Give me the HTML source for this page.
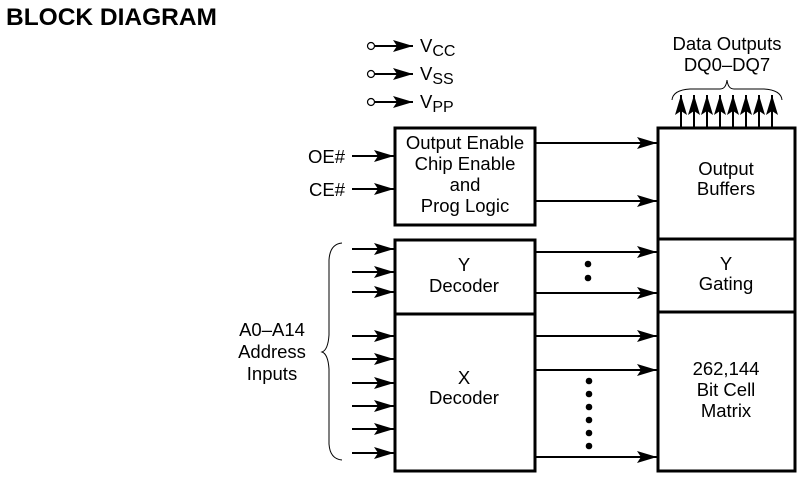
<!DOCTYPE html>
<html><head><style>
body{margin:0;background:#fff;width:802px;height:479px;overflow:hidden}
svg{display:block}
text{font-family:"Liberation Sans",Arial,sans-serif;font-size:18.5px;fill:#000}
</style></head><body>
<svg width="802" height="479" viewBox="0 0 802 479" xmlns="http://www.w3.org/2000/svg">
<defs>
<marker id="b" markerWidth="20" markerHeight="12" refX="20" refY="6" orient="auto" markerUnits="userSpaceOnUse">
<path d="M0,0 L20,6 L0,12 L4,6 Z" fill="#000"/></marker>
</defs>
<text x="6" y="25" style="font-size:24.5px;font-weight:bold">BLOCK DIAGRAM</text>

<g stroke="#000" stroke-width="2">
<circle cx="371" cy="46" r="3.5" fill="#fff" stroke-width="1.2"/>
<circle cx="371" cy="74" r="3.5" fill="#fff" stroke-width="1.2"/>
<circle cx="371" cy="102" r="3.5" fill="#fff" stroke-width="1.2"/>
<line x1="375" y1="46" x2="413" y2="46" marker-end="url(#b)"/>
<line x1="375" y1="74" x2="413" y2="74" marker-end="url(#b)"/>
<line x1="375" y1="102" x2="413" y2="102" marker-end="url(#b)"/>
</g>
<text x="420" y="52">V<tspan dy="4" font-size="16">CC</tspan></text>
<text x="420" y="80">V<tspan dy="4" font-size="16">SS</tspan></text>
<text x="420" y="108">V<tspan dy="4" font-size="16">PP</tspan></text>

<text x="727" y="50" text-anchor="middle">Data Outputs</text>
<text x="727" y="71" text-anchor="middle">DQ0–DQ7</text>
<path d="M672,100 Q673,90 690,89 L720,89 Q726,89 727,80 Q728,89 734,89 L764,89 Q781,90 782,100" fill="none" stroke="#000" stroke-width="1"/>
<g stroke="#000" stroke-width="2">
<line x1="681" y1="128" x2="681" y2="95" marker-end="url(#b)"/>
<line x1="694" y1="128" x2="694" y2="95" marker-end="url(#b)"/>
<line x1="707" y1="128" x2="707" y2="95" marker-end="url(#b)"/>
<line x1="720" y1="128" x2="720" y2="95" marker-end="url(#b)"/>
<line x1="733" y1="128" x2="733" y2="95" marker-end="url(#b)"/>
<line x1="746" y1="128" x2="746" y2="95" marker-end="url(#b)"/>
<line x1="759" y1="128" x2="759" y2="95" marker-end="url(#b)"/>
<line x1="772" y1="128" x2="772" y2="95" marker-end="url(#b)"/>
</g>

<g fill="none" stroke="#000" stroke-width="3">
<rect x="395" y="128" width="140" height="97"/>
<rect x="395" y="240" width="140" height="231"/>
<line x1="395" y1="314" x2="535" y2="314"/>
<rect x="658" y="128" width="137" height="343"/>
<line x1="658" y1="239" x2="795" y2="239"/>
<line x1="658" y1="312" x2="795" y2="312"/>
</g>

<g stroke="#000" stroke-width="2">
<line x1="352" y1="156" x2="394" y2="156" marker-end="url(#b)"/>
<line x1="352" y1="189" x2="394" y2="189" marker-end="url(#b)"/>
<line x1="536" y1="143" x2="657" y2="143" marker-end="url(#b)"/>
<line x1="536" y1="201" x2="657" y2="201" marker-end="url(#b)"/>
<line x1="352" y1="249" x2="394" y2="249" marker-end="url(#b)"/>
<line x1="352" y1="272" x2="394" y2="272" marker-end="url(#b)"/>
<line x1="352" y1="292" x2="394" y2="292" marker-end="url(#b)"/>
<line x1="352" y1="336" x2="394" y2="336" marker-end="url(#b)"/>
<line x1="352" y1="359" x2="394" y2="359" marker-end="url(#b)"/>
<line x1="352" y1="383" x2="394" y2="383" marker-end="url(#b)"/>
<line x1="352" y1="406" x2="394" y2="406" marker-end="url(#b)"/>
<line x1="352" y1="429" x2="394" y2="429" marker-end="url(#b)"/>
<line x1="352" y1="453" x2="394" y2="453" marker-end="url(#b)"/>
<line x1="536" y1="252" x2="657" y2="252" marker-end="url(#b)"/>
<line x1="536" y1="293" x2="657" y2="293" marker-end="url(#b)"/>
<line x1="536" y1="336" x2="657" y2="336" marker-end="url(#b)"/>
<line x1="536" y1="370" x2="657" y2="370" marker-end="url(#b)"/>
<line x1="536" y1="457" x2="657" y2="457" marker-end="url(#b)"/>
</g>
<g fill="#000">
<circle cx="588" cy="264" r="3.3"/><circle cx="588" cy="278" r="3.3"/>
<circle cx="589" cy="381" r="3.3"/><circle cx="589" cy="394" r="3.3"/><circle cx="589" cy="407" r="3.3"/>
<circle cx="589" cy="420" r="3.3"/><circle cx="589" cy="433" r="3.3"/><circle cx="589" cy="446" r="3.3"/>
</g>
<path d="M342,243 Q330,244 329,260 L329,335 Q328,350 322,352 Q328,354 329,369 L329,444 Q330,459 342,460" fill="none" stroke="#000" stroke-width="1"/>

<text x="345" y="163" text-anchor="end">OE#</text>
<text x="345" y="196" text-anchor="end">CE#</text>
<text x="465" y="149" text-anchor="middle">Output Enable</text>
<text x="465" y="170" text-anchor="middle">Chip Enable</text>
<text x="465" y="191" text-anchor="middle">and</text>
<text x="465" y="212" text-anchor="middle">Prog Logic</text>
<text x="464" y="271" text-anchor="middle">Y</text>
<text x="464" y="292" text-anchor="middle">Decoder</text>
<text x="464" y="384" text-anchor="middle">X</text>
<text x="464" y="404" text-anchor="middle">Decoder</text>
<text x="726" y="175" text-anchor="middle">Output</text>
<text x="726" y="195" text-anchor="middle">Buffers</text>
<text x="726" y="270" text-anchor="middle">Y</text>
<text x="726" y="290" text-anchor="middle">Gating</text>
<text x="726" y="375" text-anchor="middle">262,144</text>
<text x="726" y="396" text-anchor="middle">Bit Cell</text>
<text x="726" y="417" text-anchor="middle">Matrix</text>
<text x="272" y="336" text-anchor="middle">A0–A14</text>
<text x="272" y="358" text-anchor="middle">Address</text>
<text x="272" y="380" text-anchor="middle">Inputs</text>
</svg>
</body></html>
